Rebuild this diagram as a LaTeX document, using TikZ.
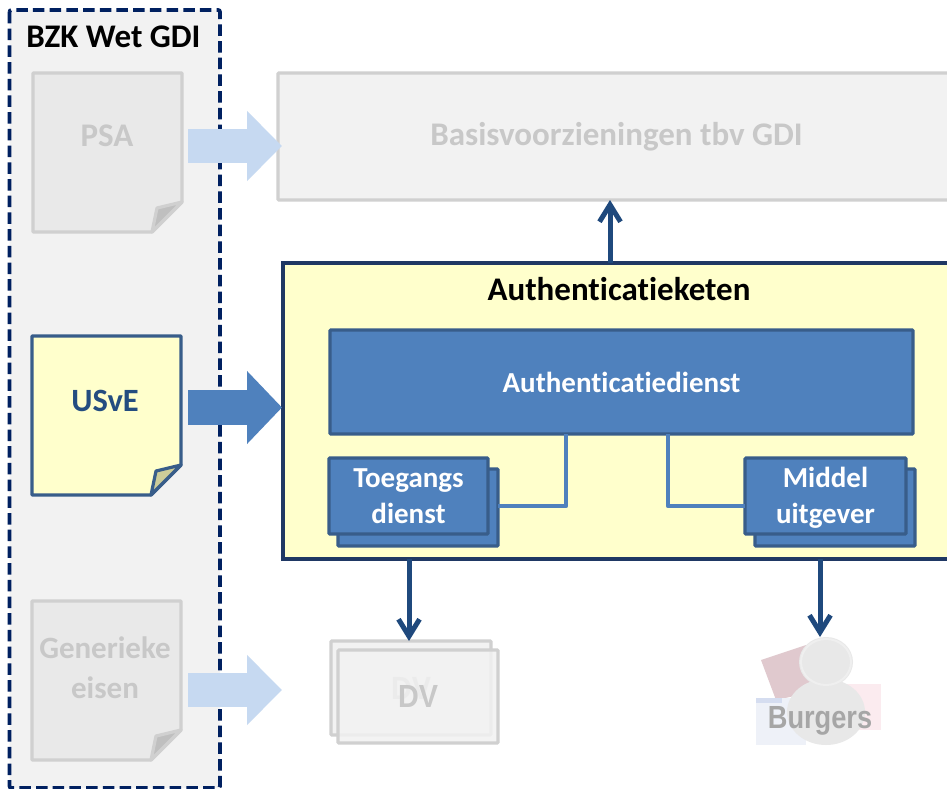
\documentclass[tikz,border=0pt]{standalone}
\usepackage{fontspec}
\setmainfont{Carlito}[Ligatures=NoCommon]
\newfontfamily\arialfont{Liberation Sans}
\usetikzlibrary{arrows.meta}
\definecolor{dashblue}{HTML}{002060}
\definecolor{navy}{HTML}{1F3864}
\definecolor{arrowblue}{HTML}{1F497D}
\definecolor{midblue}{HTML}{4F81BD}
\definecolor{edgeblue}{HTML}{385D8A}
\definecolor{paleblue}{HTML}{C6D9F1}
\definecolor{creamy}{HTML}{FFFFCC}
\definecolor{foldy}{HTML}{CCCC99}
\definecolor{panel}{HTML}{F2F2F2}
\definecolor{ghostfill}{HTML}{E9E9E9}
\definecolor{ghostline}{HTML}{D0D0D0}
\definecolor{ghostfold}{HTML}{BFBFBF}
\definecolor{ghosttext}{HTML}{C8C8C8}
\definecolor{passport}{HTML}{E0C9CE}
\definecolor{idcard}{HTML}{EEF1F8}
\definecolor{idband}{HTML}{D5DDF0}
\definecolor{pinkcard}{HTML}{FBEBEF}
\definecolor{persona}{HTML}{E8E8E8}
\definecolor{personb}{HTML}{EFEFEF}
\newcommand{\notepaper}[7]{% x1 y1 x2 y2 fill line foldfill
  \draw[line width=3.2pt,line join=round,draw=#6,fill=#5]
    (#1,#2) -- (#3,#2) -- (#3,#4-30) -- (#3-30,#4) -- (#1,#4) -- cycle;
  \draw[line width=3.2pt,line join=round,draw=#6,fill=#7]
    (#3,#4-30) -- (#3-25,#4-24) -- (#3-30,#4) -- cycle;
}
\newcommand{\firstline}{\rule{0pt}{24pt}}
\newcommand{\lastline}{\rule[-6pt]{0pt}{6pt}}
\tikzset{
  x=1pt,y=-1pt,
  sized/.style n args={2}{font=\bfseries\fontsize{#1}{#2}\selectfont},
  boxnode/.style={rectangle,inner sep=0pt,outer sep=0pt,align=center},
  ghostbox/.style={boxnode,draw=ghostline,fill=panel,line width=3.2pt,rounded corners=1pt},
  bluebox/.style={boxnode,draw=edgeblue,fill=midblue,line width=3.2pt,text=white,rounded corners=1pt,sized={29}{36}},
  labelnode/.style={inner sep=0pt,outer sep=0pt,align=center},
  flow/.style={draw=arrowblue,line width=5pt,-{Straight Barb[length=17pt,width=21pt,line width=5pt]}},
  tie/.style={draw=midblue,line width=4.5pt,line join=round},
  blockpale/.style={draw=paleblue,line width=34pt,-{Triangle[length=35pt,width=68pt,fill=paleblue]}},
  blockmid/.style={draw=midblue,line width=35pt,-{Triangle[length=35pt,width=71pt,fill=midblue]}},
}
\begin{document}
\begin{tikzpicture}
\path[use as bounding box,fill=white] (0,0) rectangle (947,789);
\clip (0,0) rectangle (947,789);
% GDI panel
\draw[draw=dashblue,fill=panel,line width=3.8pt,dash pattern=on 11.5pt off 5.2pt,rounded corners=2pt] (9.5,10) rectangle (220,788);
\node[labelnode,text=black,sized={33}{33}] (bzk) at (113.5,37) {BZK Wet GDI};
% documents
\notepaper{33}{73}{182}{232}{ghostfill}{ghostline}{ghostfold}
\notepaper{32}{336}{181}{495}{creamy}{edgeblue}{foldy}
\notepaper{32}{601}{181}{760}{ghostfill}{ghostline}{ghostfold}
\node[labelnode,text=ghosttext,sized={33}{33}] (psa) at (107,136) {PSA};
\node[labelnode,text=arrowblue!80!edgeblue,sized={32.5}{33}] (usve) at (105,401) {USvE};
\node[labelnode,text=ghosttext,sized={31}{40}] (eisen) at (105,668) {Generieke\\eisen};
% top box
\node[ghostbox,text=ghosttext,sized={33}{33},minimum width=677pt,minimum height=127pt] (basis) at (616.5,136.5) {Basisvoorzieningen tbv GDI};
% keten
\node[boxnode,draw=navy,fill=creamy,line width=3.4pt,minimum width=672pt,minimum height=296pt] (keten) at (619,411) {};
\node[labelnode,text=black,sized={33}{33}] (ketentitle) at (619,289) {Authenticatieketen};
\node[bluebox,minimum width=583pt,minimum height=104pt] (adienst) at (621.5,382) {Authenticatiedienst};
% stacked boxes
\node[bluebox,minimum width=160pt,minimum height=77pt] (tback) at (418,507.5) {};
\node[bluebox,minimum width=159pt,minimum height=76pt] (toegang) at (408.5,496) {\firstline Toegangs\\dienst\lastline};
\node[bluebox,minimum width=160pt,minimum height=77pt] (mback) at (835,507.5) {};
\node[bluebox,minimum width=161pt,minimum height=76pt] (middel) at (825.5,496) {\firstline Middel\\uitgever\lastline};
% ties
\coordinate (tiel) at (566,506);
\coordinate (tier) at (668,506);
\draw[tie] (adienst.south -| tiel) -- (tiel) -- (tback.east |- tiel);
\draw[tie] (adienst.south -| tier) -- (tier) -- (middel.west |- tier);
% DV
\node[ghostbox,minimum width=160pt,minimum height=94pt,text=ghosttext,font=\arialfont\bfseries\fontsize{32}{32}\selectfont] (dvback) at (411,688) {\scalebox{0.9}[1]{DV}};
\node[ghostbox,minimum width=160pt,minimum height=93pt,text=ghosttext,fill opacity=0.85,text opacity=1,font=\arialfont\bfseries\fontsize{32}{32}\selectfont] (dv) at (418,696.5) {\scalebox{0.9}[1]{DV}};
% Burgers picture
\fill[color=passport] (761,660) -- (806,645) -- (822,690) -- (776,700) -- cycle;
\fill[color=idcard] (756,698) rectangle (806,745);
\fill[color=idband] (756,698) rectangle (782,703);
\fill[color=pinkcard] (845,684) rectangle (881,730);
\fill[color=persona] (826,712) ellipse [x radius=39pt,y radius=33pt];
\fill[color=persona] (826,662) ellipse [x radius=27pt,y radius=25pt];
\draw[color=personb,line width=2pt] (826,662) ellipse [x radius=25pt,y radius=23pt];
\node[labelnode,text=black!35,font=\arialfont\bfseries\fontsize{32}{32}\selectfont] (burgers) at (820,721) {\scalebox{0.85}[1]{Burgers}};
\coordinate (personhead) at (820,637);
% block arrows
\coordinate (a1s) at (188,146); \coordinate (a1e) at (282,146);
\coordinate (a2s) at (188,407.5); \coordinate (a2e) at (282,407.5);
\coordinate (a3s) at (188,690); \coordinate (a3e) at (282,690);
\draw[blockpale] (a1s) -- (a1e);
\draw[blockmid] (a2s) -- (a2e);
\draw[blockpale] (a3s) -- (a3e);
% flow arrows
\coordinate (f1) at (610,263);
\coordinate (f2) at (409,559);
\coordinate (f3) at (820,559);
\draw[flow] (f1) -- (basis.south -| f1);
\draw[flow] (f2) -- (dvback.north -| f2);
\draw[flow] (f3) -- (personhead);
\end{tikzpicture}
\end{document}
